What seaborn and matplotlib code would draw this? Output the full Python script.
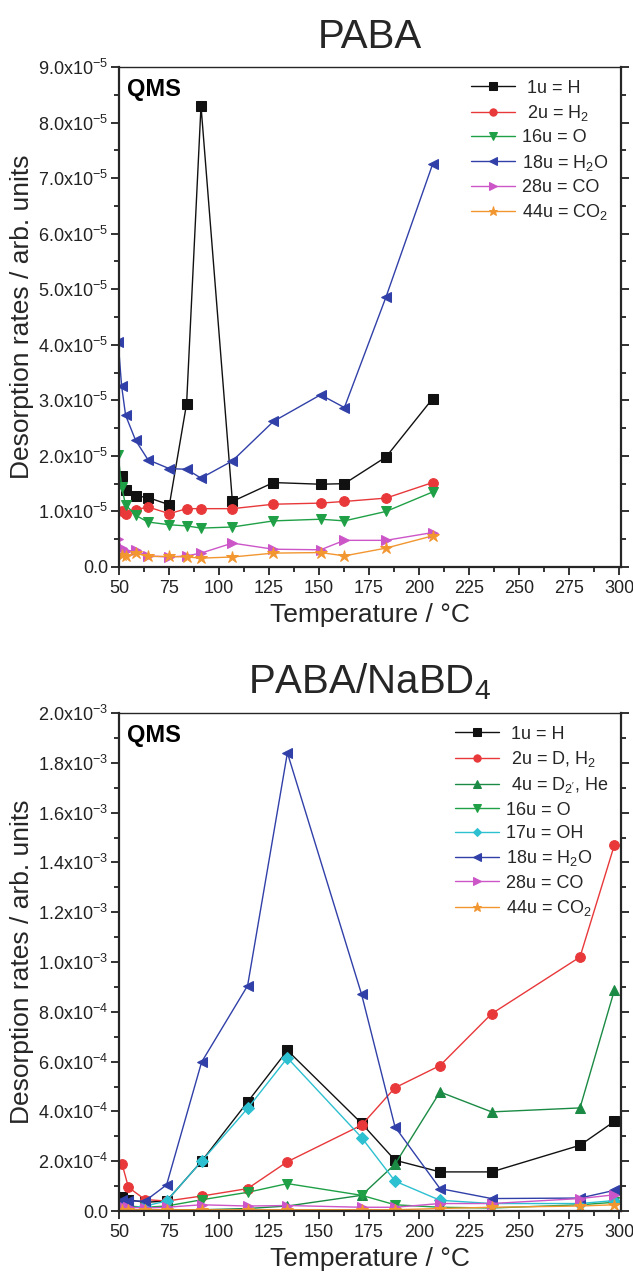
import numpy as np
import pandas as pd
import matplotlib
matplotlib.use("Agg")
import matplotlib.pyplot as plt
from matplotlib.ticker import MultipleLocator, FuncFormatter
import seaborn as sns

# ---- data: PABA (values in 1e-5) ----
temp_paba = [51.3, 53.3, 58.3, 64.5, 75.2, 83.8, 91.0, 106.7, 127.2, 150.8, 162.7, 183.5, 206.8]
temp_paba_ext = [49.6] + temp_paba
paba_h = [1.63, 1.38, 1.28, 1.25, 1.12, 2.94, 8.30, 1.18, 1.52, 1.49, 1.50, 1.98, 3.03]
paba_h2 = [1.00, 0.95, 1.03, 1.08, 0.96, 1.05, 1.05, 1.05, 1.13, 1.15, 1.18, 1.24, 1.52]
paba_o = [2.02, 1.44, 1.12, 0.93, 0.81, 0.76, 0.74, 0.70, 0.72, 0.83, 0.86, 0.83, 1.00, 1.35]
paba_h2o = [4.05, 3.26, 2.73, 2.28, 1.93, 1.77, 1.76, 1.60, 1.91, 2.62, 3.10, 2.87, 4.86, 7.25]
paba_co = [0.50, 0.34, 0.28, 0.30, 0.20, 0.18, 0.20, 0.25, 0.43, 0.32, 0.31, 0.48, 0.48, 0.62]
paba_co2 = [0.22, 0.20, 0.25, 0.19, 0.19, 0.18, 0.16, 0.18, 0.25, 0.26, 0.20, 0.34, 0.56]

# ---- data: PABA/NaBD4 (values in 1e-4) ----
temp_bd4 = [51.5, 54.7, 63.0, 73.8, 91.3, 114.3, 134.2, 171.3, 188.0, 210.5, 236.3, 280.5, 297.7]
bd4_h = [0.55, 0.45, 0.35, 0.40, 2.00, 4.38, 6.45, 3.52, 2.04, 1.57, 1.57, 2.64, 3.60]
bd4_d = [1.90, 0.95, 0.46, 0.40, 0.60, 0.90, 1.98, 3.45, 4.95, 5.84, 7.92, 10.2, 14.7]
bd4_d2 = [0.05, 0.05, 0.05, 0.05, 0.05, 0.10, 0.20, 0.63, 1.88, 4.78, 3.98, 4.14, 8.87]
bd4_o = [0.30, 0.20, 0.15, 0.20, 0.45, 0.75, 1.10, 0.63, 0.25, 0.15, 0.12, 0.25, 0.35]
bd4_oh = [0.15, 0.10, 0.20, 0.40, 2.00, 4.12, 6.15, 2.95, 1.20, 0.43, 0.30, 0.30, 0.42]
bd4_h2o = [0.45, 0.40, 0.40, 1.05, 5.98, 9.05, 18.4, 8.70, 3.38, 0.90, 0.50, 0.52, 0.83]
bd4_co = [0.20, 0.15, 0.12, 0.15, 0.25, 0.20, 0.22, 0.15, 0.15, 0.30, 0.30, 0.50, 0.65]
bd4_co2 = [0.05, 0.05, 0.05, 0.05, 0.05, 0.05, 0.05, 0.05, 0.05, 0.10, 0.15, 0.20, 0.25]

# colours
c_black = "#111111"
c_red = "#e8383a"
c_green = "#1fa046"
c_dgreen = "#1b8a44"
c_cyan = "#2cc0d0"
c_blue = "#3140a8"
c_pink = "#cc55c8"
c_orange = "#f29630"

sns.set_style("ticks")
plt.rcParams['font.family'] = ['Liberation Sans', 'DejaVu Sans']
plt.rcParams['mathtext.fontset'] = 'custom'
plt.rcParams['mathtext.rm'] = 'Liberation Sans'
plt.rcParams['mathtext.it'] = 'Liberation Sans'
plt.rcParams['mathtext.default'] = 'regular'

fig = plt.figure(figsize=(6.33, 12.72), dpi=100)
ax1 = fig.add_axes([119 / 633, 1 - 567 / 1272, 502 / 633, 500 / 1272])
ax2 = fig.add_axes([119 / 633, 1 - 1211 / 1272, 502 / 633, 498 / 1272])


def sci_fmt(v, pos):
    if abs(v) < 1e-12:
        return "0.0"
    e = int(np.floor(np.log10(abs(v)) + 1e-9))
    m = v / 10 ** e
    return f"{m:.1f}x10$^{{{e}}}$"


def draw(ax, x, y, scale, marker, color, label, ms=7):
    sns.lineplot(x=x, y=np.array(y) * scale, ax=ax, color=color, marker=marker,
                 markersize=ms, markeredgecolor=color, linewidth=1.0,
                 label=label, sort=False)


# ---- top panel ----
draw(ax1, temp_paba, paba_h, 1e-5, "s", c_black, " 1u = H")
draw(ax1, temp_paba, paba_h2, 1e-5, "o", c_red, " 2u = H$_2$")
draw(ax1, temp_paba_ext, paba_o, 1e-5, "v", c_green, "16u = O")
draw(ax1, temp_paba_ext, paba_h2o, 1e-5, "<", c_blue, "18u = H$_2$O")
draw(ax1, temp_paba_ext, paba_co, 1e-5, ">", c_pink, "28u = CO")
draw(ax1, temp_paba, paba_co2, 1e-5, "*", c_orange, "44u = CO$_2$", ms=9)
ax1.set_ylim(0, 9e-5)
ax1.yaxis.set_major_locator(MultipleLocator(1e-5))
ax1.yaxis.set_minor_locator(MultipleLocator(0.5e-5))
ax1.set_title("PABA", fontsize=29, pad=14)

# ---- bottom panel ----
draw(ax2, temp_bd4, bd4_h, 1e-4, "s", c_black, " 1u = H")
draw(ax2, temp_bd4, bd4_d, 1e-4, "o", c_red, " 2u = D, H$_2$")
draw(ax2, temp_bd4, bd4_d2, 1e-4, "^", c_dgreen, " 4u = D$_{2'}$, He")
draw(ax2, temp_bd4, bd4_o, 1e-4, "v", c_green, "16u = O")
draw(ax2, temp_bd4, bd4_oh, 1e-4, "D", c_cyan, "17u = OH", ms=6)
draw(ax2, temp_bd4, bd4_h2o, 1e-4, "<", c_blue, "18u = H$_2$O")
draw(ax2, temp_bd4, bd4_co, 1e-4, ">", c_pink, "28u = CO")
draw(ax2, temp_bd4, bd4_co2, 1e-4, "*", c_orange, "44u = CO$_2$", ms=9)
ax2.set_ylim(0, 2e-3)
ax2.yaxis.set_major_locator(MultipleLocator(2e-4))
ax2.yaxis.set_minor_locator(MultipleLocator(1e-4))
ax2.set_title("PABA/NaBD$_4$", fontsize=29, pad=14)

for ax in (ax1, ax2):
    ax.set_xlim(50, 301)
    ax.xaxis.set_major_locator(MultipleLocator(25))
    ax.xaxis.set_minor_locator(MultipleLocator(12.5))
    ax.yaxis.set_major_formatter(FuncFormatter(sci_fmt))
    ax.tick_params(which='both', direction='out', right=True, top=False,
                   labelright=False, labelsize=13, width=1.3, colors='#222222')
    ax.tick_params(which='major', length=6)
    ax.tick_params(which='minor', length=3.5)
    ax.tick_params(axis='y', pad=2)
    for side in ('left', 'bottom', 'right'):
        ax.spines[side].set_linewidth(1.6)
    ax.spines['top'].set_linewidth(1.0)
    for sp in ax.spines.values():
        sp.set_visible(True)
    ax.set_xlabel("Temperature / °C", fontsize=19, labelpad=4)
    ax.set_ylabel("Desorption rates / arb. units", fontsize=19)
    ax.yaxis.set_label_coords(-0.17, 0.5)
    ax.text(0.016, 0.978, "QMS", transform=ax.transAxes, fontsize=17,
            fontweight='heavy', color='black', va='top', ha='left')
    ax.legend(loc='upper right', frameon=False, fontsize=13, handlelength=2.4,
              labelspacing=0.35, handletextpad=0.4, borderaxespad=0.3,
              markerscale=0.75, bbox_to_anchor=(1.0, 1.0))

fig.savefig("out.png", dpi=100)
